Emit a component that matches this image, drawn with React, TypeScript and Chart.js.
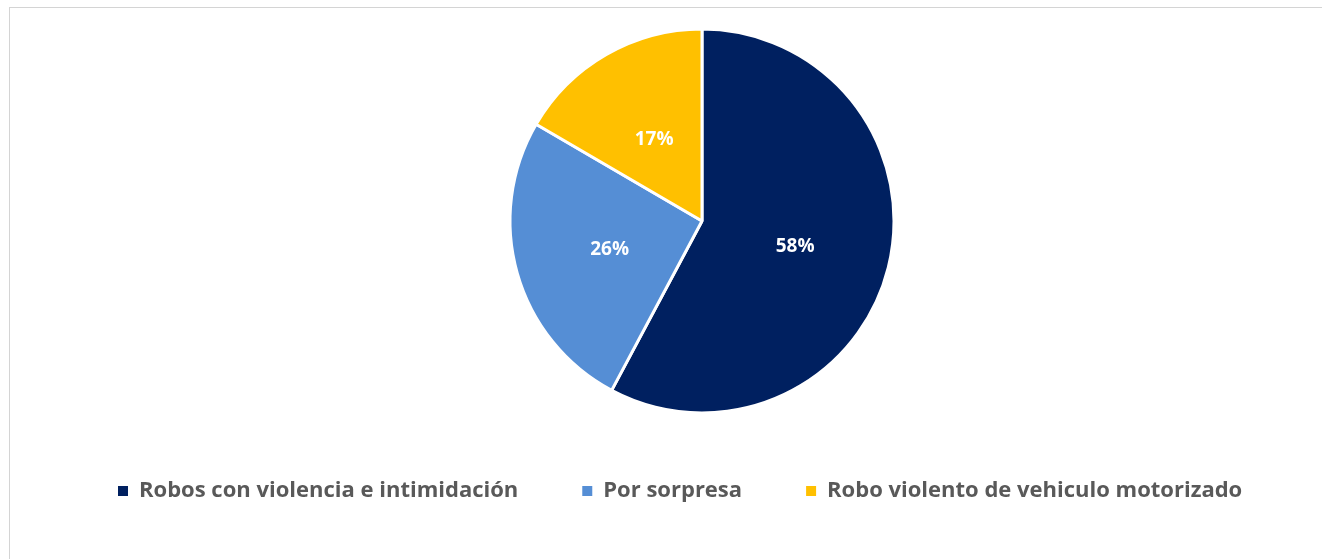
import React, { useEffect, useRef } from "react";
import { Chart, registerables } from "chart.js";

Chart.register(...registerables);

const categories = [
  "Robos con violencia e intimidación",
  "Por sorpresa",
  "Robo violento de vehiculo motorizado",
];
const shares = [57.8, 25.6, 16.6];
const colors = ["#002060", "#558ED5", "#FFC000"];

const FONT = "'Open Sans', Lato, sans-serif";

const percentLabels = {
  id: "percentLabels",
  afterDatasetsDraw(chart: any) {
    const ctx = chart.ctx;
    const meta = chart.getDatasetMeta(0);
    const data = chart.data.datasets[0].data as number[];
    const total = data.reduce((a, b) => a + b, 0);
    ctx.save();
    ctx.fillStyle = "#ffffff";
    ctx.font = `bold 19px ${FONT}`;
    ctx.textAlign = "center";
    ctx.textBaseline = "middle";
    meta.data.forEach((arc: any, i: number) => {
      const p = arc.tooltipPosition();
      ctx.fillText(`${Math.round((data[i] / total) * 100)}%`, p.x, p.y + 2);
    });
    ctx.restore();
  },
};

export default function App() {
  const ref = useRef<HTMLCanvasElement | null>(null);

  useEffect(() => {
    if (!ref.current) return;
    const chart = new Chart(ref.current, {
      type: "pie",
      data: {
        labels: categories,
        datasets: [
          {
            data: shares,
            backgroundColor: colors,
            borderColor: "#ffffff",
            borderWidth: 3,
            radius: 192,
          },
        ],
      },
      options: {
        animation: false,
        responsive: false,
        maintainAspectRatio: false,
        layout: { padding: { left: 54, right: 50, top: 26, bottom: 47 } },
        plugins: {
          tooltip: { enabled: false },
          title: { display: false },
          legend: {
            position: "bottom",
            align: "start",
            labels: {
              boxWidth: 10,
              boxHeight: 10,
              padding: 64,
              color: "#595959",
              font: { family: FONT, size: 22, weight: "bold" },
              generateLabels: (c: any) =>
                (Chart as any).overrides.pie.plugins.legend.labels
                  .generateLabels(c)
                  .map((it: any) => ({ ...it, lineWidth: 0, strokeStyle: it.fillStyle })),
            },
          },
        },
      },
      plugins: [percentLabels],
    });
    return () => chart.destroy();
  }, []);

  return (
    <div
      style={{
        position: "fixed",
        left: 0,
        top: 0,
        width: 1322,
        height: 559,
        overflow: "hidden",
        background: "#ffffff",
      }}
    >
      <canvas
        ref={ref}
        width={1400}
        height={559}
        style={{ position: "absolute", left: 0, top: 0, width: 1400, height: 559 }}
      />
      <div
        style={{
          position: "absolute",
          left: 9,
          top: 7,
          right: -10,
          bottom: -10,
          borderTop: "1px solid #d4d4d4",
          borderLeft: "1px solid #d4d4d4",
          pointerEvents: "none",
        }}
      />
    </div>
  );
}
